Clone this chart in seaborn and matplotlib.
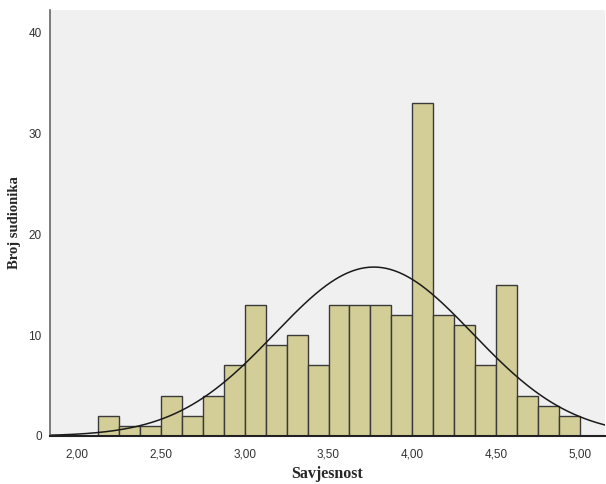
import numpy as np
import pandas as pd
import matplotlib
matplotlib.use("Agg")
import matplotlib.pyplot as plt
import seaborn as sns

# Histogram of conscientiousness scores (bin width 0.125, from 2.125 to 5.0)
bin_edges = [2.125 + 0.125 * i for i in range(24)]
counts = [2, 1, 1, 4, 2, 4, 7, 13, 9, 10, 7, 13, 13, 13, 12, 33, 12, 11, 7, 15, 4, 3, 2]
mean_score = 3.77
sd_score = 0.59
x_ticks = [2.0, 2.5, 3.0, 3.5, 4.0, 4.5, 5.0]
x_tick_labels = ["2,00", "2,50", "3,00", "3,50", "4,00", "4,50", "5,00"]
y_ticks = [0, 10, 20, 30, 40]

sns.set_style("white")
plt.rcParams["font.family"] = ["Liberation Sans", "DejaVu Sans"]

fig = plt.figure(figsize=(6.06, 4.84), dpi=100)
ax = fig.add_axes([50 / 606, 1 - 436 / 484, 555 / 606, 426 / 484])
ax.set_facecolor("#F0F0F0")

centers = [(bin_edges[i] + bin_edges[i + 1]) / 2 for i in range(len(counts))]
df = pd.DataFrame({"score": centers, "n": counts})
sns.histplot(data=df, x="score", weights="n", bins=bin_edges, ax=ax,
             color="#D3CE97", alpha=1.0, edgecolor="#3a3a3a", linewidth=1.0)

# Normal curve scaled to counts per bin
n_total = sum(counts)
width = bin_edges[1] - bin_edges[0]
xs = np.linspace(1.80, 5.2, 400)
ys = n_total * width / (sd_score * np.sqrt(2 * np.pi)) * np.exp(-0.5 * ((xs - mean_score) / sd_score) ** 2)
sns.lineplot(x=xs, y=ys, ax=ax, color="#1a1a1a", linewidth=1.1)

ax.set_xlim(1.839, 5.149)
ax.set_ylim(0, 42.2)
ax.set_xticks(x_ticks)
ax.set_xticklabels(x_tick_labels)
ax.set_yticks(y_ticks)
ax.tick_params(axis="both", direction="out", length=5, width=1, color="#555555",
               labelsize=8.5, labelcolor="#333333", pad=1)
ax.tick_params(axis="x", pad=4)

for side in ["top", "right"]:
    ax.spines[side].set_visible(False)
ax.spines["left"].set_color("#666666")
ax.spines["left"].set_linewidth(1.2)
ax.spines["bottom"].set_color("#222222")
ax.spines["bottom"].set_linewidth(1.5)

ax.set_xlabel("Savjesnost", labelpad=4, family=["Liberation Serif", "DejaVu Serif"],
              weight="bold", size=11.5)
ax.set_ylabel("Broj sudionika", labelpad=5, family=["Liberation Serif", "DejaVu Serif"],
              weight="bold", size=10.5)

fig.savefig("out.png", dpi=100)
